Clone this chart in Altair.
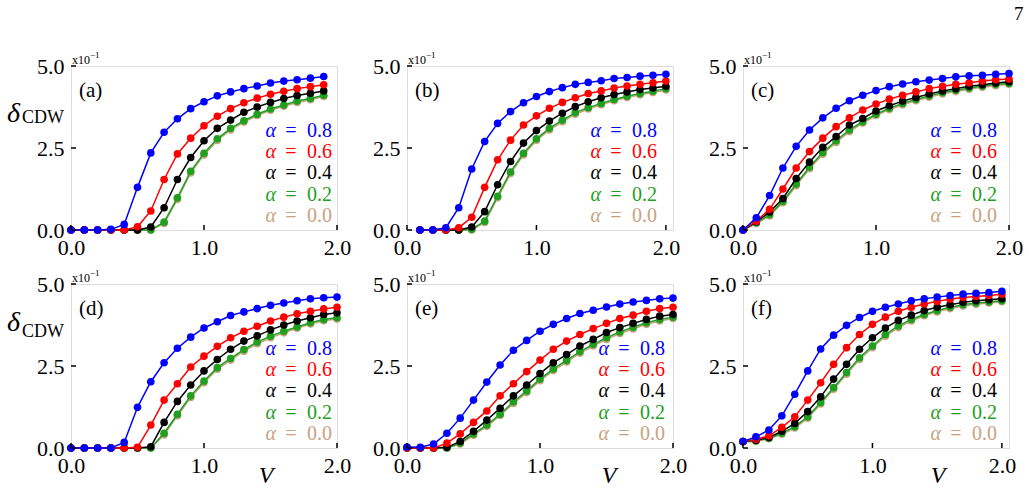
import altair as alt
import pandas as pd

# ---------------- data ----------------
ALPHAS = ["0.8", "0.6", "0.4", "0.2", "0.0"]
COLORS = ["#0000ff", "#ff0000", "#000000", "#1f9e1f", "#c8a27f"]
PANEL_LABELS = ["(a)", "(b)", "(c)", "(d)", "(e)", "(f)"]
X_TICKS = [0.0, 1.0, 2.0]
Y_TICKS = [0.0, 2.5, 5.0]
X_MAX = [2.0, 2.055, 2.0, 2.0, 2.0, 2.055]

V_0_19 = [0.0, 0.1, 0.2, 0.3, 0.4, 0.5, 0.6, 0.7, 0.8, 0.9, 1.0, 1.1, 1.2, 1.3, 1.4, 1.5, 1.6, 1.7, 1.8, 1.9]
V_1_20 = [0.1, 0.2, 0.3, 0.4, 0.5, 0.6, 0.7, 0.8, 0.9, 1.0, 1.1, 1.2, 1.3, 1.4, 1.5, 1.6, 1.7, 1.8, 1.9, 2.0]
V_0_20 = [0.0, 0.1, 0.2, 0.3, 0.4, 0.5, 0.6, 0.7, 0.8, 0.9, 1.0, 1.1, 1.2, 1.3, 1.4, 1.5, 1.6, 1.7, 1.8, 1.9, 2.0]

A_08 = [0, 0, 0, 0.02, 0.17, 1.30, 2.35, 2.98, 3.39, 3.70, 3.91, 4.09, 4.21, 4.31, 4.39, 4.48, 4.54, 4.58, 4.63, 4.68]
A_06 = [0, 0, 0, 0, 0, 0.10, 0.58, 1.54, 2.32, 2.80, 3.18, 3.47, 3.70, 3.88, 4.02, 4.14, 4.23, 4.31, 4.37, 4.43]
A_04 = [0, 0, 0, 0, 0, 0, 0.09, 0.68, 1.54, 2.21, 2.72, 3.10, 3.35, 3.59, 3.75, 3.89, 4.01, 4.10, 4.17, 4.24]
A_02 = [0, 0, 0, 0, 0, 0, 0, 0.24, 0.98, 1.79, 2.34, 2.78, 3.10, 3.33, 3.53, 3.69, 3.81, 3.93, 4.01, 4.11]
A_00 = [0, 0, 0, 0, 0, 0, 0, 0.20, 0.93, 1.74, 2.29, 2.73, 3.05, 3.29, 3.49, 3.65, 3.77, 3.89, 3.97, 4.07]

B_08 = [0, 0, 0.07, 0.68, 1.86, 2.70, 3.25, 3.61, 3.88, 4.07, 4.22, 4.34, 4.44, 4.50, 4.55, 4.62, 4.65, 4.69, 4.72, 4.75]
B_06 = [0, 0, 0, 0.07, 0.39, 1.30, 2.14, 2.74, 3.20, 3.48, 3.71, 3.89, 4.03, 4.16, 4.24, 4.33, 4.39, 4.44, 4.49, 4.54]
B_04 = [0, 0, 0, 0, 0.09, 0.56, 1.38, 2.09, 2.65, 3.03, 3.32, 3.56, 3.76, 3.91, 4.03, 4.13, 4.21, 4.28, 4.33, 4.38]
B_02 = [0, 0, 0, 0, 0.02, 0.27, 1.03, 1.77, 2.34, 2.78, 3.10, 3.35, 3.58, 3.73, 3.86, 3.98, 4.08, 4.16, 4.23, 4.31]
B_00 = [0, 0, 0, 0, 0, 0.23, 0.98, 1.72, 2.29, 2.73, 3.05, 3.30, 3.53, 3.69, 3.82, 3.94, 4.04, 4.12, 4.19, 4.27]

C_08 = [0, 0.37, 1.05, 1.89, 2.55, 3.05, 3.42, 3.71, 3.94, 4.11, 4.25, 4.37, 4.45, 4.52, 4.57, 4.62, 4.67, 4.70, 4.72, 4.75, 4.77]
C_06 = [0, 0.27, 0.63, 1.25, 1.89, 2.39, 2.80, 3.15, 3.42, 3.66, 3.84, 3.99, 4.11, 4.21, 4.31, 4.38, 4.44, 4.49, 4.54, 4.58, 4.60]
C_04 = [0, 0.25, 0.55, 0.96, 1.57, 2.07, 2.52, 2.85, 3.20, 3.40, 3.63, 3.79, 3.93, 4.04, 4.15, 4.24, 4.31, 4.38, 4.43, 4.48, 4.52]
C_02 = [0, 0.22, 0.47, 0.88, 1.40, 1.92, 2.36, 2.72, 3.05, 3.30, 3.53, 3.71, 3.86, 3.98, 4.09, 4.19, 4.26, 4.33, 4.39, 4.44, 4.47]
C_00 = [0, 0.20, 0.43, 0.83, 1.35, 1.87, 2.31, 2.67, 3.00, 3.26, 3.49, 3.67, 3.82, 3.94, 4.05, 4.15, 4.22, 4.29, 4.35, 4.40, 4.44]

D_08 = [0, 0, 0, 0, 0.17, 1.24, 2.02, 2.60, 3.04, 3.38, 3.66, 3.85, 4.04, 4.15, 4.25, 4.35, 4.42, 4.49, 4.55, 4.58, 4.60]
D_06 = [0, 0, 0, 0, 0, 0.02, 0.70, 1.46, 1.96, 2.47, 2.80, 3.10, 3.36, 3.56, 3.71, 3.87, 3.99, 4.09, 4.17, 4.24, 4.29]
D_04 = [0, 0, 0, 0, 0, 0, 0.04, 0.78, 1.42, 1.92, 2.35, 2.70, 3.01, 3.26, 3.42, 3.60, 3.75, 3.87, 3.97, 4.07, 4.12]
D_02 = [0, 0, 0, 0, 0, 0, 0, 0.45, 1.03, 1.59, 2.04, 2.45, 2.73, 3.00, 3.23, 3.41, 3.56, 3.69, 3.82, 3.92, 3.97]
D_00 = [0, 0, 0, 0, 0, 0, 0, 0.40, 0.98, 1.54, 1.99, 2.40, 2.68, 2.95, 3.18, 3.36, 3.51, 3.65, 3.78, 3.88, 3.93]

E_08 = [0.03, 0.02, 0.12, 0.45, 0.91, 1.46, 2.01, 2.53, 2.98, 3.28, 3.56, 3.77, 3.95, 4.10, 4.20, 4.30, 4.39, 4.45, 4.50, 4.55, 4.57]
E_06 = [0, 0, 0, 0.15, 0.43, 0.78, 1.13, 1.59, 1.96, 2.33, 2.68, 3.01, 3.26, 3.46, 3.64, 3.80, 3.95, 4.05, 4.17, 4.25, 4.29]
E_04 = [0, 0, 0, 0.02, 0.20, 0.51, 0.85, 1.21, 1.59, 1.92, 2.27, 2.60, 2.85, 3.11, 3.31, 3.52, 3.67, 3.80, 3.92, 4.02, 4.07]
E_02 = [0, 0, 0, 0, 0.15, 0.43, 0.70, 1.03, 1.41, 1.74, 2.10, 2.41, 2.67, 2.94, 3.16, 3.36, 3.54, 3.68, 3.82, 3.92, 3.99]
E_00 = [0, 0, 0, 0, 0.12, 0.39, 0.66, 0.99, 1.36, 1.69, 2.05, 2.36, 2.62, 2.89, 3.11, 3.31, 3.49, 3.63, 3.77, 3.87, 3.95]

F_08 = [0.20, 0.34, 0.55, 0.98, 1.64, 2.35, 3.02, 3.44, 3.74, 3.98, 4.17, 4.29, 4.39, 4.49, 4.55, 4.60, 4.65, 4.69, 4.72, 4.74, 4.78]
F_06 = [0.20, 0.27, 0.37, 0.63, 0.95, 1.46, 1.99, 2.55, 3.06, 3.46, 3.77, 3.99, 4.17, 4.29, 4.39, 4.47, 4.54, 4.59, 4.62, 4.65, 4.69]
F_04 = [0.20, 0.24, 0.32, 0.51, 0.75, 1.11, 1.56, 2.10, 2.55, 3.01, 3.36, 3.66, 3.89, 4.05, 4.19, 4.29, 4.37, 4.44, 4.49, 4.52, 4.55]
F_02 = [0.20, 0.22, 0.30, 0.45, 0.65, 0.95, 1.39, 1.84, 2.30, 2.75, 3.11, 3.46, 3.72, 3.92, 4.07, 4.19, 4.29, 4.37, 4.42, 4.45, 4.49]
F_00 = [0.18, 0.20, 0.28, 0.42, 0.61, 0.91, 1.34, 1.79, 2.25, 2.70, 3.06, 3.41, 3.67, 3.87, 4.03, 4.15, 4.25, 4.33, 4.38, 4.42, 4.46]

PANELS = [
    (V_0_19, [A_08, A_06, A_04, A_02, A_00]),
    (V_1_20, [B_08, B_06, B_04, B_02, B_00]),
    (V_0_20, [C_08, C_06, C_04, C_02, C_00]),
    (V_0_20, [D_08, D_06, D_04, D_02, D_00]),
    (V_0_20, [E_08, E_06, E_04, E_02, E_00]),
    (V_0_20, [F_08, F_06, F_04, F_02, F_00]),
]

# ---------------- layout / style ----------------
W, H = 266, 164
SERIF = "'Liberation Serif', 'Times New Roman', 'DejaVu Serif', serif"
LEG_RIGHT = [5, 16, 12, 5, 8, 12]
V_CENTER = [195, 202, 195]
ONE = pd.DataFrame({"k": [0]})


def txt(text, x, y, size, color="black", align="left", baseline="alphabetic", style="normal"):
    return alt.Chart(ONE).mark_text(
        text=text, align=align, baseline=baseline, fontSize=size, font=SERIF,
        fontStyle=style, color=color
    ).encode(x=alt.value(x), y=alt.value(y))


def make_panel(idx):
    V, series = PANELS[idx]
    xs = alt.Scale(domain=[0, X_MAX[idx]], nice=False, zero=False)
    ys = alt.Scale(domain=[0, 5], nice=False)
    common = dict(format=".1f", title=None, grid=False, domain=False, ticks=False, tickSize=0,
                  labelFontSize=22, labelFont=SERIF, labelColor="black", labelPadding=7,
                  labelFlush=False, labelOverlap=False)
    xaxis = alt.Axis(values=X_TICKS, **common)
    yaxis = alt.Axis(values=Y_TICKS, **common)
    layers = []
    for k in reversed(range(len(ALPHAS))):
        df = pd.DataFrame({"V": V, "d": series[k]})
        base = alt.Chart(df).encode(
            x=alt.X("V:Q", scale=xs, axis=xaxis),
            y=alt.Y("d:Q", scale=ys, axis=yaxis),
        )
        layers.append(base.mark_line(color=COLORS[k], strokeWidth=1.5, clip=False))
        layers.append(base.mark_circle(color=COLORS[k], size=58, opacity=1, clip=False))
    # inward ticks
    layers.append(alt.Chart(pd.DataFrame({"V": X_TICKS})).mark_rule(color="black", strokeWidth=1.5).encode(
        x=alt.X("V:Q", scale=xs, axis=xaxis), y=alt.value(H), y2=alt.value(H - 5)))
    layers.append(alt.Chart(pd.DataFrame({"d": Y_TICKS})).mark_rule(color="black", strokeWidth=1.5).encode(
        y=alt.Y("d:Q", scale=ys, axis=yaxis), x=alt.value(0), x2=alt.value(5)))
    # legend (text only)
    R = W - LEG_RIGHT[idx]
    for k, (a, c) in enumerate(zip(ALPHAS, COLORS)):
        yc = H - 14 - (len(ALPHAS) - 1 - k) * 21.3
        layers.append(txt(a, R, yc, 20, c, align="right", baseline="middle"))
        layers.append(txt("=", R - 41, yc, 20, c, align="center", baseline="middle"))
        layers.append(txt("α", R - 56, yc, 20, c, align="right", baseline="middle", style="italic"))
    # panel label
    layers.append(txt(PANEL_LABELS[idx], 8, 25, 21, baseline="middle"))
    # scale factor
    layers.append(txt("x10", 1, -2, 12))
    layers.append(txt("−1", 19, -8, 9))
    row = idx // 3
    col = idx % 3
    if col == 0:
        if row == 0:
            layers.append(txt("δ", -64, 56, 28, style="italic"))
            layers.append(txt("CDW", -49, 57, 18))
            # invisible anchor fixing the page offset
            layers.append(alt.Chart(ONE).mark_rule(color="white", strokeWidth=1).encode(
                x=alt.value(-70), x2=alt.value(-70), y=alt.value(-65), y2=alt.value(-65)))
        else:
            layers.append(txt("δ", -64, 47, 28, style="italic"))
            layers.append(txt("CDW", -49, 53, 18))
    if row == 1:
        layers.append(txt("V", V_CENTER[col], H + 35, 24, align="center", style="italic"))
    if idx == 2:
        layers.append(txt("7", W + 5, -46, 19))
    return alt.layer(*layers).properties(width=W, height=H)


chart = alt.concat(
    *[make_panel(i) for i in range(6)],
    columns=3,
    spacing=alt.RowColnumber(row=54, column=70),
    bounds="flush",
).properties(padding=0).configure_view(stroke="black", strokeWidth=1.6).configure(background="white")

chart.save("out.html", embed_options={"renderer": "svg", "actions": False})
